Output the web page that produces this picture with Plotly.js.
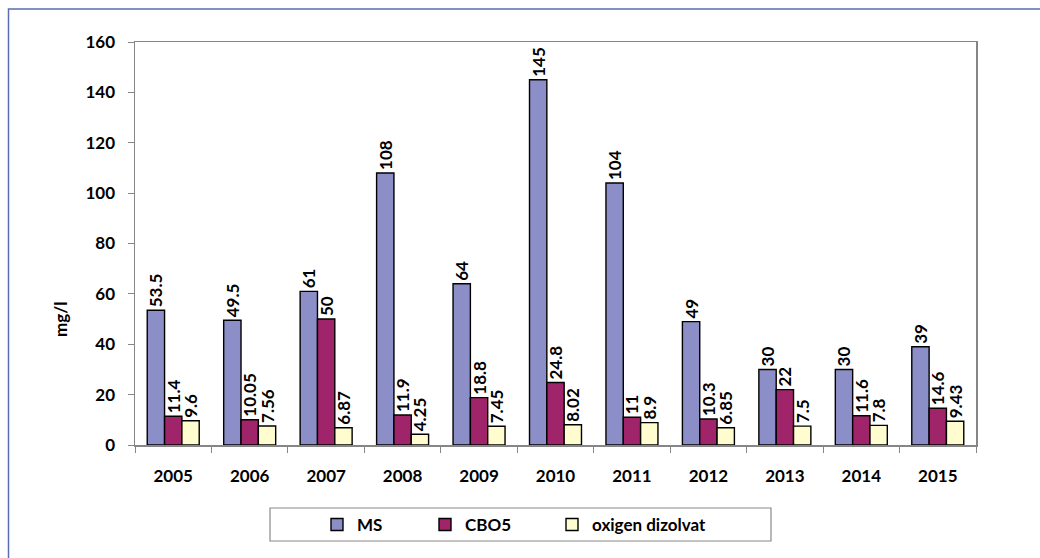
<!DOCTYPE html>
<html>
<head>
<meta charset="utf-8">
<script src="https://cdn.plot.ly/plotly-3.0.1.min.js"></script>
<style>
html,body{margin:0;padding:0;background:#fff;}
#chart{width:1040px;height:558px;}
</style>
</head>
<body>
<div id="chart"></div>
<script>
var years = ['2005','2006','2007','2008','2009','2010','2011','2012','2013','2014','2015'];
var msValues = [53.5, 49.5, 61, 108, 64, 145, 104, 49, 30, 30, 39];
var cboValues = [11.4, 10.05, 50, 11.9, 18.8, 24.8, 11, 10.3, 22, 11.6, 14.6];
var odValues = [9.6, 7.56, 6.87, 4.25, 7.45, 8.02, 8.9, 6.85, 7.5, 7.8, 9.43];
var seriesNames = ['MS', 'CBO5', 'oxigen dizolvat'];
var yTicks = [0, 20, 40, 60, 80, 100, 120, 140, 160];

var FONT = 'Lato, "Open Sans", sans-serif';
var colors = ['#8C8FC7', '#A0246A', '#FFFCCF'];
var vals = [msValues, cboValues, odValues];
var legendIds = ['legend', 'legend2', 'legend3'];

var traces = vals.map(function(v, i){
  return {
    type: 'bar',
    name: seriesNames[i],
    legend: legendIds[i],
    x: years,
    y: v,
    text: v.map(function(n){ return String(n); }),
    textposition: 'outside',
    textangle: -90,
    constraintext: 'none',
    cliponaxis: false,
    textfont: {family: FONT, size: 17, color: '#000', weight: 'bold'},
    marker: {color: colors[i], line: {color: '#000', width: 1.4}},
    hoverinfo: 'x+y'
  };
});

var X0 = 135, X1 = 976, Y0 = 42, Y1 = 445;
function px(X){ return (X - X0) / (X1 - X0); }
function py(Y){ return (Y1 - Y) / (Y1 - Y0); }

function legendAt(X){
  return {
    orientation: 'h',
    x: px(X), xanchor: 'left',
    y: py(525), yanchor: 'middle',
    font: {family: FONT, size: 17, color: '#000', weight: 'bold'},
    bgcolor: 'rgba(0,0,0,0)',
    borderwidth: 0,
    itemwidth: 30
  };
}

var layout = {
  width: 1040,
  height: 558,
  margin: {l: X0, r: 1040 - X1, t: Y0, b: 558 - Y1, pad: 0},
  paper_bgcolor: '#fff',
  plot_bgcolor: '#fff',
  barmode: 'group',
  bargap: 0.32,
  bargroupgap: 0,
  font: {family: FONT, color: '#000'},
  showlegend: true,
  legend: legendAt(317),
  legend2: legendAt(425),
  legend3: legendAt(552),
  xaxis: {
    type: 'category',
    showgrid: false,
    showline: true,
    linecolor: '#868686',
    linewidth: 1.5,
    mirror: true,
    ticks: 'outside',
    tickson: 'boundaries',
    ticklen: 6,
    tickcolor: '#868686',
    tickfont: {family: FONT, size: 17, weight: 'bold', color: '#000'},
    ticklabelstandoff: 15,
    zeroline: false,
    fixedrange: true
  },
  yaxis: {
    range: [0, 160],
    tickvals: yTicks,
    ticktext: yTicks.map(String),
    showgrid: false,
    showline: true,
    linecolor: '#868686',
    linewidth: 1.5,
    mirror: true,
    ticks: 'outside',
    ticklen: 6,
    tickcolor: '#868686',
    tickfont: {family: FONT, size: 17, weight: 'bold', color: '#000'},
    ticklabelstandoff: 9,
    zeroline: false,
    fixedrange: true
  },
  annotations: [{
    text: 'mg/l',
    textangle: -90,
    xref: 'paper', yref: 'paper',
    x: px(60), y: py(320),
    xanchor: 'center', yanchor: 'middle',
    showarrow: false,
    font: {family: FONT, size: 17, weight: 'bold', color: '#000'}
  }],
  shapes: [
    {type: 'rect', xref: 'paper', yref: 'paper',
     x0: px(270), x1: px(771), y0: py(508), y1: py(541),
     line: {color: '#8a8a8a', width: 1.2}, fillcolor: 'rgba(0,0,0,0)', layer: 'below'},
    {type: 'rect', xref: 'paper', yref: 'paper',
     x0: px(8.5), x1: px(1060), y0: py(9), y1: py(600),
     line: {color: '#5A6DB3', width: 1.5}, fillcolor: 'rgba(0,0,0,0)', layer: 'below'}
  ]
};

Plotly.newPlot('chart', traces, layout, {displayModeBar: false, staticPlot: true});
</script>
</body>
</html>
